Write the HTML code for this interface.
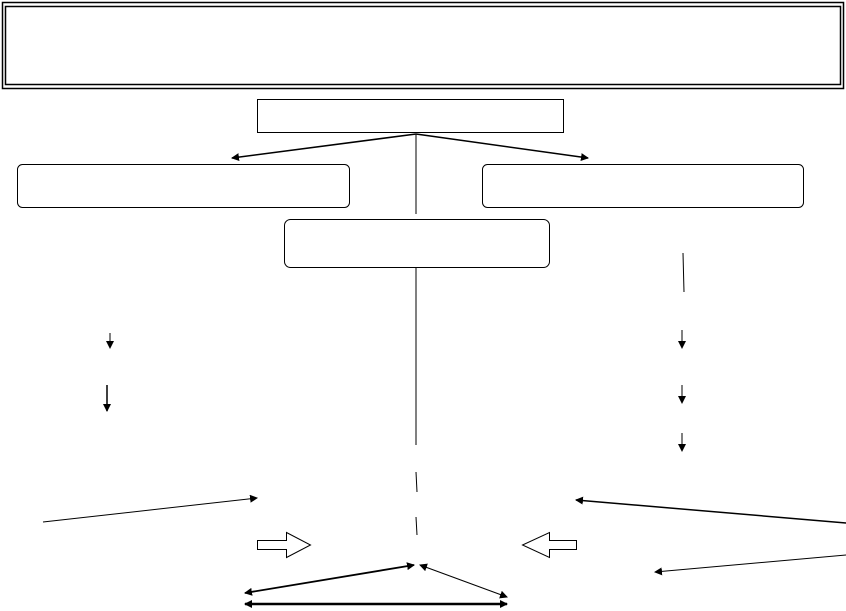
<!DOCTYPE html>
<html><head><style>body{margin:0;background:#fff}svg{display:block}</style></head><body>
<svg width="846" height="611" viewBox="0 0 846 611" xmlns="http://www.w3.org/2000/svg">
<defs><marker id="a" markerWidth="8" markerHeight="8" refX="7" refY="4" orient="auto-start-reverse" markerUnits="userSpaceOnUse"><path d="M0,0 L8,4 L0,8z" fill="#000"/></marker></defs>
<g fill="none" stroke="#000">
<rect x="2.5" y="2.5" width="841" height="86" stroke-width="1.5"/>
<rect x="5.5" y="6.5" width="835" height="78" stroke-width="1.5"/>
<rect x="257.5" y="99.5" width="306" height="33"/>
<rect x="17.5" y="164.5" width="332" height="43" rx="5"/>
<rect x="482.5" y="164.5" width="321" height="43" rx="5"/>
<rect x="284.5" y="219.5" width="265" height="48" rx="6"/>
<line x1="416" y1="134" x2="232" y2="158" stroke-width="1.5" marker-end="url(#a)"/>
<line x1="416" y1="134" x2="588" y2="158" stroke-width="1.5" marker-end="url(#a)"/>
<line x1="416" y1="134" x2="416" y2="214"/>
<line x1="416" y1="267" x2="416" y2="445"/>
<line x1="416" y1="472" x2="417" y2="492"/>
<line x1="416" y1="517" x2="417" y2="535"/>
<line x1="110" y1="333" x2="110" y2="348" marker-end="url(#a)"/>
<line x1="107" y1="385" x2="107" y2="411" stroke-width="1.5" marker-end="url(#a)"/>
<line x1="683" y1="253" x2="684" y2="292"/>
<line x1="682" y1="330" x2="682" y2="348" marker-end="url(#a)"/>
<line x1="682" y1="385" x2="682" y2="403" marker-end="url(#a)"/>
<line x1="682" y1="433" x2="682" y2="451" marker-end="url(#a)"/>
<line x1="43" y1="522" x2="257" y2="498" marker-end="url(#a)"/>
<line x1="846" y1="523" x2="576" y2="500" stroke-width="1.5" marker-end="url(#a)"/>
<line x1="846" y1="555" x2="655" y2="572" marker-end="url(#a)"/>
<path d="M257.5,540.5 H286.5 V532.5 L310.5,545 L286.5,557.5 V549.5 H257.5Z"/>
<path d="M576.5,540.5 H549.5 V532.5 L522.5,545 L549.5,557.5 V549.5 H576.5Z"/>
<line x1="245" y1="593" x2="414" y2="565" stroke-width="1.8" marker-start="url(#a)" marker-end="url(#a)"/>
<line x1="420" y1="565" x2="507" y2="597" marker-start="url(#a)" marker-end="url(#a)"/>
<line x1="245" y1="604" x2="507" y2="604" stroke-width="2.5" marker-start="url(#a)" marker-end="url(#a)"/>
</g>
</svg>
</body></html>
